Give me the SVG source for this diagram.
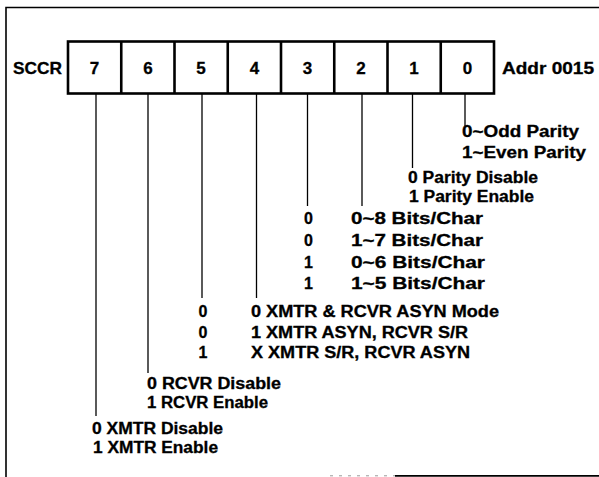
<svg xmlns="http://www.w3.org/2000/svg" width="599" height="477" viewBox="0 0 599 477">
<style>
  text { font-family: "Liberation Sans", Arial, Helvetica, sans-serif; font-weight: bold; fill: #000; stroke: #000; stroke-width: 0.3; }
  .hdr { font-size: 16.5px; }
  .bit { font-size: 17px; text-anchor: middle; }
  .lbl { font-size: 16px; }
  .mid { text-anchor: middle; }
  .frame { fill: none; stroke: #000; stroke-width: 1.6; }
  .cell { fill: #fff; stroke: #000; stroke-width: 2.6; }
  .conn line { stroke: #000; stroke-width: 1.3; }
</style>
<rect width="599" height="477" fill="#fff"/>
<g id="frame">
  <path class="frame" d="M6,477 V7.5 H599"/>
  <line x1="395" y1="475.8" x2="599" y2="475.8" stroke="#000" stroke-width="1.8"/>
  <line x1="330" y1="475.8" x2="395" y2="475.8" stroke="#999" stroke-width="1" stroke-dasharray="3 6"/>
</g>
<g id="register">
  <text class="hdr" x="13" y="73.5" textLength="49" lengthAdjust="spacingAndGlyphs">SCCR</text>
  <rect class="cell" x="68" y="41.5" width="426" height="52"/>
  <g stroke="#000" stroke-width="2.6">
    <line x1="121.25" y1="41.5" x2="121.25" y2="93.5"/>
    <line x1="174.5" y1="41.5" x2="174.5" y2="93.5"/>
    <line x1="227.75" y1="41.5" x2="227.75" y2="93.5"/>
    <line x1="281" y1="41.5" x2="281" y2="93.5"/>
    <line x1="334.25" y1="41.5" x2="334.25" y2="93.5"/>
    <line x1="387.5" y1="41.5" x2="387.5" y2="93.5"/>
    <line x1="440.75" y1="41.5" x2="440.75" y2="93.5"/>
  </g>
  <text class="bit" x="94.6" y="73.5">7</text>
  <text class="bit" x="147.9" y="73.5">6</text>
  <text class="bit" x="201.1" y="73.5">5</text>
  <text class="bit" x="254.4" y="73.5">4</text>
  <text class="bit" x="307.6" y="73.5">3</text>
  <text class="bit" x="360.9" y="73.5">2</text>
  <text class="bit" x="414.1" y="73.5">1</text>
  <text class="bit" x="467.4" y="73.5">0</text>
  <text class="hdr" x="502" y="73.5" textLength="92" lengthAdjust="spacingAndGlyphs">Addr 0015</text>
</g>
<g id="connectors" class="conn">
  <line x1="96" y1="93.5" x2="96" y2="416"/>
  <line x1="148" y1="93.5" x2="148" y2="373"/>
  <line x1="202" y1="93.5" x2="202" y2="298"/>
  <line x1="256.5" y1="93.5" x2="256.5" y2="298"/>
  <line x1="307.5" y1="93.5" x2="307.5" y2="206"/>
  <line x1="362" y1="93.5" x2="362" y2="206"/>
  <line x1="412.5" y1="93.5" x2="412.5" y2="168"/>
  <line x1="465" y1="93.5" x2="465" y2="126"/>
</g>
<g id="bit0">
  <text class="lbl" x="462" y="137.3" textLength="117" lengthAdjust="spacingAndGlyphs">0~Odd Parity</text>
  <text class="lbl" x="462" y="157.8" textLength="124" lengthAdjust="spacingAndGlyphs">1~Even Parity</text>
</g>
<g id="bit1">
  <text class="lbl" x="408" y="182.8" textLength="130" lengthAdjust="spacingAndGlyphs">0 Parity Disable</text>
  <text class="lbl" x="409" y="202.3" textLength="125" lengthAdjust="spacingAndGlyphs">1 Parity Enable</text>
</g>
<g id="bits3-2">
  <text class="lbl mid" x="308.5" y="223.8">0</text>
  <text class="lbl mid" x="308.5" y="245.8">0</text>
  <text class="lbl mid" x="308.5" y="267.8">1</text>
  <text class="lbl mid" x="308.5" y="288.8">1</text>
  <text class="lbl" x="351" y="223.8" textLength="132" lengthAdjust="spacingAndGlyphs">0~8 Bits/Char</text>
  <text class="lbl" x="351" y="245.8" textLength="132" lengthAdjust="spacingAndGlyphs">1~7 Bits/Char</text>
  <text class="lbl" x="351" y="267.8" textLength="134" lengthAdjust="spacingAndGlyphs">0~6 Bits/Char</text>
  <text class="lbl" x="351" y="288.8" textLength="134" lengthAdjust="spacingAndGlyphs">1~5 Bits/Char</text>
</g>
<g id="bits5-4">
  <text class="lbl mid" x="203" y="316.8">0</text>
  <text class="lbl mid" x="203" y="337.8">0</text>
  <text class="lbl mid" x="203" y="358.3">1</text>
  <text class="lbl" x="251" y="316.8" textLength="248" lengthAdjust="spacingAndGlyphs">0 XMTR &amp; RCVR ASYN Mode</text>
  <text class="lbl" x="251" y="337.8" textLength="217" lengthAdjust="spacingAndGlyphs">1 XMTR ASYN, RCVR S/R</text>
  <text class="lbl" x="251" y="358.3" textLength="219" lengthAdjust="spacingAndGlyphs">X XMTR S/R, RCVR ASYN</text>
</g>
<g id="bit6">
  <text class="lbl" x="147" y="388.8" textLength="134" lengthAdjust="spacingAndGlyphs">0 RCVR Disable</text>
  <text class="lbl" x="147" y="407.8" textLength="121" lengthAdjust="spacingAndGlyphs">1 RCVR Enable</text>
</g>
<g id="bit7">
  <text class="lbl" x="92" y="433.8" textLength="131" lengthAdjust="spacingAndGlyphs">0 XMTR Disable</text>
  <text class="lbl" x="93" y="452.8" textLength="125" lengthAdjust="spacingAndGlyphs">1 XMTR Enable</text>
</g>
</svg>
